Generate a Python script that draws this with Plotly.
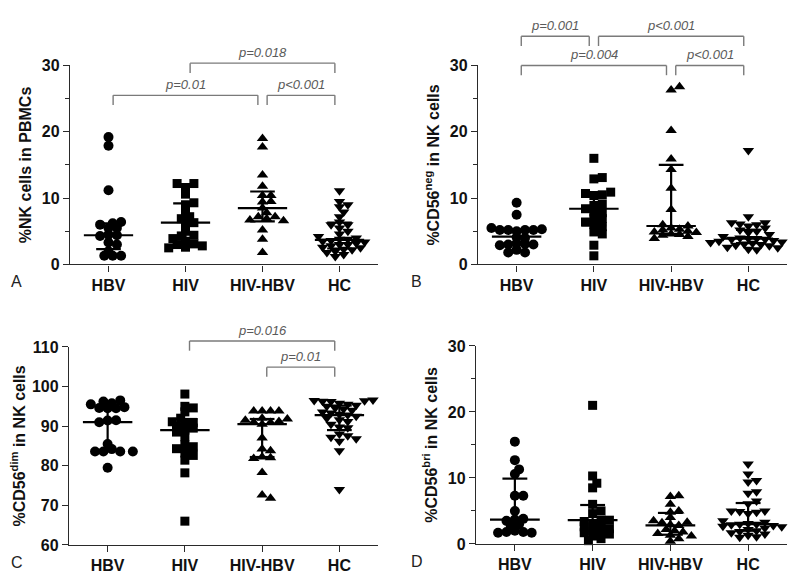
import numpy as np
import plotly.graph_objects as go

FONT = "Liberation Sans, Arial, Helvetica, sans-serif"

groups = ["HBV", "HIV", "HIV-HBV", "HC"]
symbols = ["circle", "square", "triangle-up", "triangle-down"]

# ---------------- Panel A: %NK cells in PBMCs ----------------
a_hbv = [19.2, 17.9, 11.2, 6.4, 6.2, 6.0, 5.5, 5.5, 4.5, 4.4, 4.3, 3.3, 3.0, 2.0, 1.3, 1.3, 1.3]
a_hiv = [12.2, 12.2, 11.6, 10.6, 9.3, 9.0, 8.0, 7.2, 6.9, 6.3, 6.2, 5.0, 4.4, 4.3, 3.9, 3.5, 3.1, 3.0, 2.8, 2.6, 2.5]
a_hivhbv = [19.0, 17.7, 13.5, 11.8, 10.4, 10.4, 9.5, 9.4, 8.5, 7.8, 7.2, 7.2, 6.9, 6.7, 6.6, 5.2, 3.8, 1.8]
a_hc = [11.1, 9.5, 9.0, 8.7, 7.9, 7.2, 6.4, 6.0, 6.0, 5.5, 5.0, 4.6, 4.2, 4.0, 3.8, 3.8, 3.6, 3.5,
        3.4, 3.2, 3.0, 3.0, 2.8, 2.6, 2.5, 2.3, 2.2, 2.0, 1.8, 1.5, 1.2]
a_median = [4.4, 6.3, 8.5, 3.7]
a_q1 = [2.3, 3.4, 6.5, 2.4]
a_q3 = [6.2, 9.2, 11.0, 6.3]

# ---------------- Panel B: %CD56neg in NK cells ----------------
b_hbv = [9.3, 7.5, 5.5, 5.3, 5.2, 5.2, 5.2, 5.2, 5.0, 4.1, 4.0, 3.2, 3.1, 3.0, 3.0, 2.9, 2.2, 1.8, 1.8]
b_hiv = [16.0, 13.1, 12.9, 10.9, 10.7, 10.5, 10.4, 9.1, 8.9, 8.4, 7.9, 7.8, 7.0, 6.9, 6.4, 6.0, 5.7,
         4.9, 4.6, 2.9, 1.3]
b_hivhbv = [26.8, 26.3, 20.2, 15.9, 14.3, 11.5, 8.3, 6.0, 5.8, 5.5, 5.3, 5.2, 5.0, 4.9, 4.8, 4.6,
            4.5, 4.4, 4.2, 3.9]
b_hc = [17.2, 7.2, 6.3, 6.3, 6.1, 6.0, 5.8, 5.5, 5.2, 5.0, 4.8, 4.5, 4.2, 4.0, 3.9, 3.9, 3.8, 3.8,
        3.6, 3.5, 3.4, 3.3, 3.2, 3.1, 3.0, 2.9, 2.8, 2.6, 2.5, 2.3, 2.2]
b_median = [4.2, 8.4, 5.8, 3.9]
b_q1 = [3.1, 5.9, 4.6, 3.2]
b_q3 = [5.3, 10.6, 15.0, 5.2]

# ---------------- Panel C: %CD56dim in NK cells ----------------
c_hbv = [96.5, 96.2, 95.8, 95.5, 94.8, 94.5, 94.5, 94.6, 91.5, 91.0, 91.4, 85.5, 84.2, 83.6,
         83.6, 83.6, 83.6, 79.5]
c_hiv = [98.1, 95.0, 94.6, 93.6, 92.0, 91.1, 90.9, 90.8, 89.9, 89.5, 89.0, 88.5, 87.3, 85.3,
         84.8, 84.3, 83.2, 82.6, 81.4, 78.2, 66.0]
c_hivhbv = [93.8, 93.8, 93.8, 93.8, 92.0, 91.8, 91.5, 91.2, 91.0, 90.9, 90.5, 87.0, 84.2, 83.8,
            82.2, 82.0, 81.8, 78.3, 72.6, 71.8]
c_hc = [96.6, 96.5, 96.4, 96.3, 96.2, 95.8, 95.5, 95.3, 95.0, 94.6, 94.3, 94.0, 93.6, 93.3,
        93.0, 92.8, 92.5, 92.0, 91.6, 91.2, 90.5, 89.8, 89.6, 88.0, 87.6, 87.2, 86.8, 86.2,
        83.8, 74.0]
c_median = [91.0, 89.0, 90.5, 92.8]
c_q1 = [84.0, 84.0, 82.2, 89.0]
c_q3 = [94.3, 91.8, 91.8, 95.2]

# ---------------- Panel D: %CD56bri in NK cells ----------------
d_hbv = [15.5, 12.7, 11.3, 10.6, 7.3, 7.3, 5.0, 3.8, 3.7, 3.5, 3.0, 2.8, 2.0, 1.8, 1.7, 1.7, 1.8]
d_hiv = [21.0, 10.3, 9.2, 8.5, 6.0, 5.0, 4.6, 3.6, 3.6, 3.4, 3.0, 2.8, 2.6, 2.3, 2.0, 1.9, 1.7,
         1.5, 1.2, 0.8, 0.5]
d_hivhbv = [7.2, 7.3, 6.0, 5.0, 4.8, 4.0, 3.5, 3.3, 3.2, 2.9, 2.8, 2.2, 2.0, 1.8, 1.6, 1.3, 1.2,
            0.8, 0.4]
d_hc = [12.1, 10.6, 9.6, 9.4, 7.9, 7.7, 6.5, 6.1, 5.0, 5.0, 4.9, 4.8, 4.6, 3.5, 3.3, 3.1, 3.0,
        3.0, 2.9, 2.8, 2.7, 2.6, 2.4, 2.2, 2.0, 1.9, 1.7, 1.5, 1.3, 1.1, 1.0]
d_median = [3.7, 3.6, 2.8, 3.0]
d_q1 = [1.9, 2.0, 1.4, 2.0]
d_q3 = [9.9, 5.9, 4.7, 6.2]

# significance brackets: (group from, group to, level value, label)
a_sig = [(0, 2, 25.5, "p=0.01"), (2, 3, 25.5, "p<0.001"), (1, 3, 30.35, "p=0.018")]
b_sig = [(0, 1, 34.4, "p=0.001"), (1, 3, 34.4, "p<0.001"), (0, 2, 30.0, "p=0.004"), (2, 3, 30.0, "p<0.001")]
c_sig = [(1, 3, 111.5, "p=0.016"), (2, 3, 104.9, "p=0.01")]
d_sig = []

titles = ["%NK cells in PBMCs", "%CD56<sup>neg</sup> in NK cells",
          "%CD56<sup>dim</sup> in NK cells", "%CD56<sup>bri</sup> in NK cells"]
letters = ["A", "B", "C", "D"]

# the page adds an 8px body margin, so the figure is drawn 8px smaller and all
# reference pixel positions are shifted by -8
OFF = 8
W, H = 800 - OFF, 584 - OFF
# plot areas in reference pixels: (left, right, bottom, top)
areas = [(70, 378, 264, 59), (478, 787, 264, 59), (69, 378, 553, 349), (476, 787, 552, 348)]
letter_x = [9, 409, 9, 409]
yranges = [(0, 30), (0, 30), (60, 110), (0, 30)]
XR = (-0.5, 3.5)

panels = [
    ([a_hbv, a_hiv, a_hivhbv, a_hc], a_median, a_q1, a_q3, a_sig),
    ([b_hbv, b_hiv, b_hivhbv, b_hc], b_median, b_q1, b_q3, b_sig),
    ([c_hbv, c_hiv, c_hivhbv, c_hc], c_median, c_q1, c_q3, c_sig),
    ([d_hbv, d_hiv, d_hivhbv, d_hc], d_median, d_q1, d_q3, d_sig),
]
marker_sizes = {"circle": 10, "square": 9, "triangle-up": 10, "triangle-down": 10}


def swarm(vals, px_per_unit, px_per_cat, dx_min=8.4, dy_min=5.4):
    vals = np.asarray(vals, dtype=float)
    med = np.median(vals)
    order = np.argsort(np.abs(vals - med))
    placed = []
    offs = np.zeros(len(vals))
    step = dx_min * 0.5
    cands = [0.0]
    for j in range(1, 60):
        cands += [j * step, -j * step]
    for i in order:
        y = vals[i] * px_per_unit
        for c in cands:
            if all(((c - px) / dx_min) ** 2 + ((y - py) / dy_min) ** 2 >= 1.0 for px, py in placed):
                offs[i] = c
                placed.append((c, y))
                break
    return offs / px_per_cat


fig = go.Figure()
shapes = []
annotations = []
layout_axes = {}

for k, (data, med, q1, q3, sig) in enumerate(panels):
    left, right, bottom, top = [v - OFF for v in areas[k]]
    y0, y1 = yranges[k]
    n = "" if k == 0 else str(k + 1)
    xa, ya = "x" + n, "y" + n
    px_per_unit = (bottom - top) / (y1 - y0)
    px_per_cat = (right - left) / (XR[1] - XR[0])
    for g, vals in enumerate(data):
        offs = swarm(vals, px_per_unit, px_per_cat)
        fig.add_trace(go.Scatter(
            x=g + offs, y=vals, mode="markers", xaxis=xa, yaxis=ya,
            marker=dict(symbol=symbols[g], size=marker_sizes[symbols[g]], color="black",
                        line=dict(width=0)),
            cliponaxis=False, showlegend=False, hoverinfo="y"))
    # median + IQR
    lx, ly = [], []
    for g in range(4):
        lx += [g - 0.32, g + 0.32, None, g - 0.16, g + 0.16, None, g - 0.16, g + 0.16, None, g, g, None]
        ly += [med[g], med[g], None, q1[g], q1[g], None, q3[g], q3[g], None, q1[g], q3[g], None]
    fig.add_trace(go.Scatter(x=lx, y=ly, mode="lines", xaxis=xa, yaxis=ya,
                             line=dict(color="black", width=2.2), cliponaxis=False,
                             showlegend=False, hoverinfo="skip"))

    xdom = [left / W, right / W]
    ydom = [1 - bottom / H, 1 - top / H]
    common = dict(showline=True, linecolor="#2a2a2a", linewidth=1.3, ticks="outside", ticklen=6,
                  tickcolor="#2a2a2a", tickwidth=1.3, showgrid=False, zeroline=False,
                  tickfont=dict(family=FONT, size=16, color="#111", weight="bold"))
    layout_axes["xaxis" + n] = dict(common, domain=xdom, range=list(XR), tickmode="array",
                                    tickvals=[0, 1, 2, 3], ticktext=groups, anchor=ya)
    yax = dict(common, domain=ydom, range=[y0, y1], tick0=y0, dtick=10, anchor=xa,
               title=dict(text=titles[k], font=dict(family=FONT, size=16, color="#111", weight="bold"),
                          standoff=6))
    if k != 2:
        yax["minor"] = dict(dtick=5, tick0=0, ticks="outside", ticklen=4, tickcolor="#2a2a2a", tickwidth=1.2)
    layout_axes["yaxis" + n] = yax

    # brackets
    xref = xa + " domain"
    yref = ya + " domain"
    drop = 10 / (bottom - top)
    for (ga, gb, lev, txt) in sig:
        xa0 = (ga + 0.06 - XR[0]) / (XR[1] - XR[0])
        xa1 = (gb - 0.06 - XR[0]) / (XR[1] - XR[0])
        yf = (lev - y0) / (y1 - y0)
        for (xs, ys, xe, ye) in [(xa0, yf - drop, xa0, yf), (xa0, yf, xa1, yf), (xa1, yf, xa1, yf - drop)]:
            shapes.append(dict(type="line", xref=xref, yref=yref, x0=xs, y0=ys, x1=xe, y1=ye,
                               line=dict(color="#7a7a7a", width=1.4)))
        annotations.append(dict(xref=xref, yref=yref, x=(xa0 + xa1) / 2, y=yf + 1.5 / (bottom - top),
                                text="<i>" + txt + "</i>", showarrow=False, xanchor="center",
                                yanchor="bottom", font=dict(family=FONT, size=13, color="#5a5a5a")))
    # panel letter
    annotations.append(dict(xref="paper", yref="paper", x=(letter_x[k] - OFF) / W,
                            y=1 - (bottom + 18) / H,
                            text=letters[k], showarrow=False, xanchor="left", yanchor="middle",
                            font=dict(family=FONT, size=16, color="#222")))

fig.update_layout(
    width=W, height=H, margin=dict(l=0, r=0, t=0, b=0),
    paper_bgcolor="white", plot_bgcolor="white",
    shapes=shapes, annotations=annotations, showlegend=False,
    **layout_axes)

fig.write_html("out.html")
